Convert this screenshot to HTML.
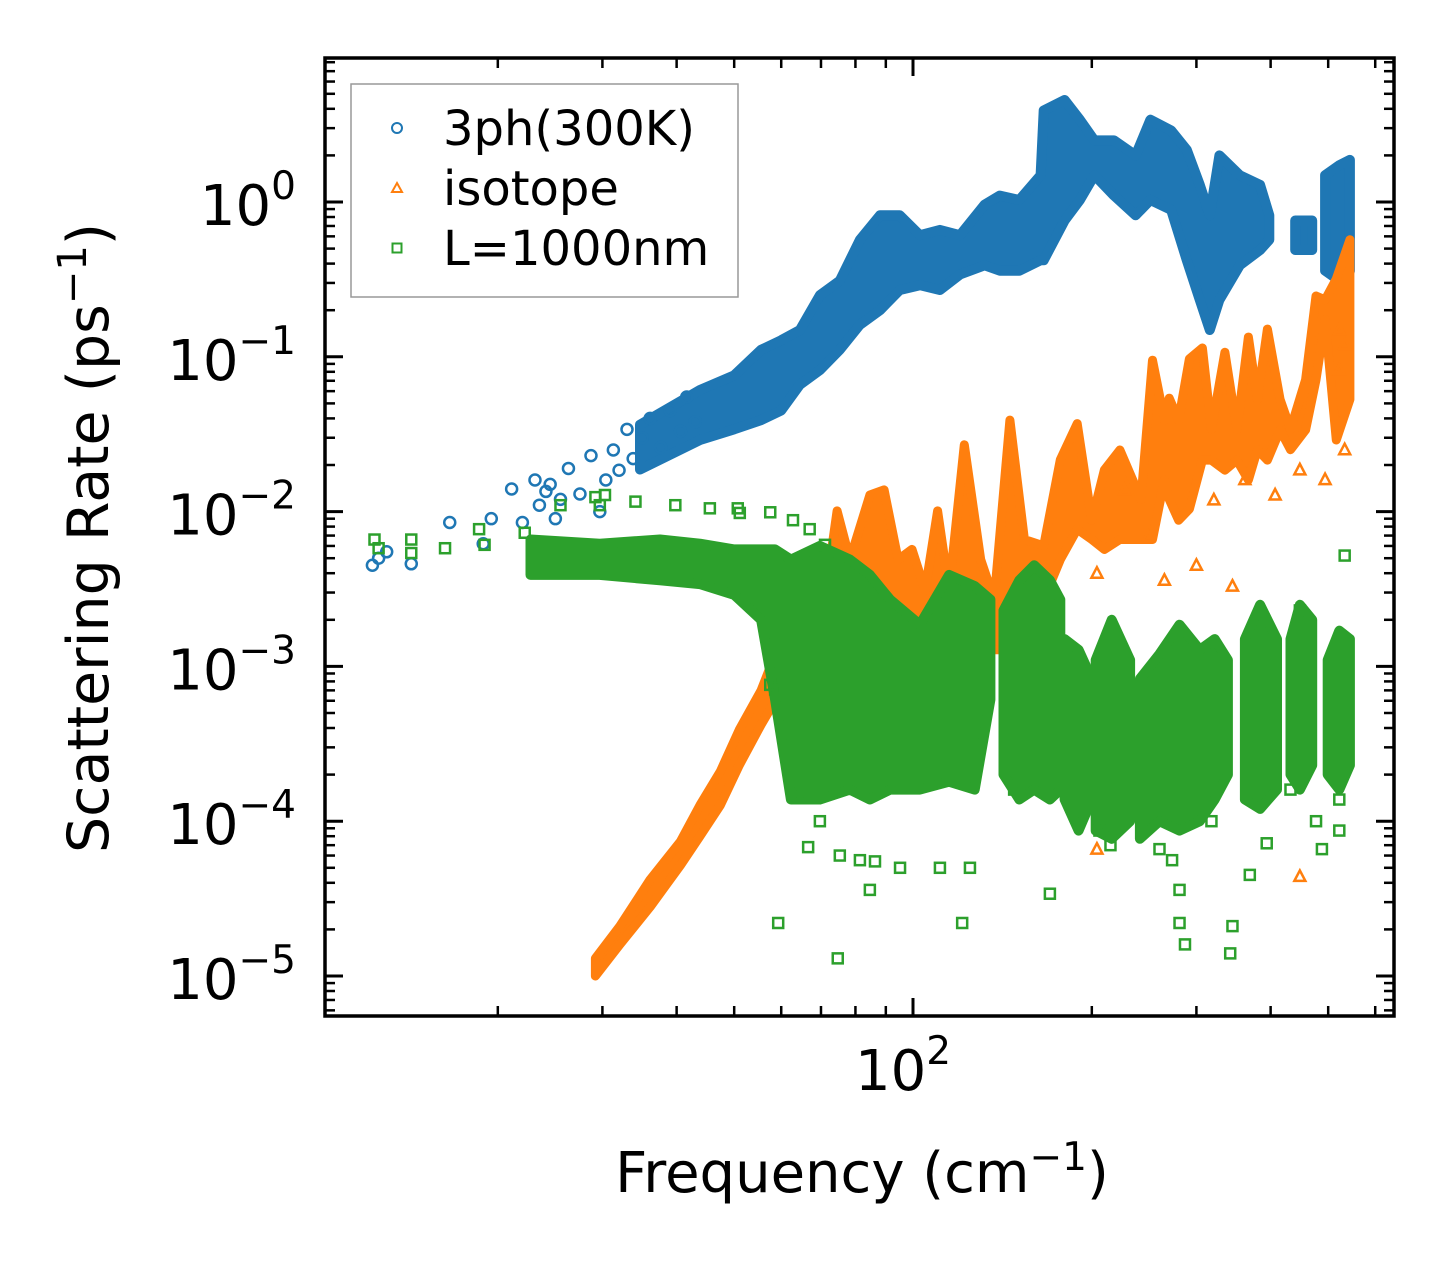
<!DOCTYPE html>
<html><head><meta charset="utf-8">
<style>
html,body{margin:0;padding:0;background:#fff;}
svg{display:block;font-family:"DejaVu Sans","Liberation Sans",sans-serif;}
</style></head>
<body>
<svg id="chart" width="1455" height="1265" viewBox="0 0 1455 1265" xmlns="http://www.w3.org/2000/svg">
<rect x="0" y="0" width="1455" height="1265" fill="#fff"/>
<g id="marks"></g>
<g id="axes"></g>
<g id="legend">
  <rect x="351" y="84" width="387" height="213" fill="#fff" fill-opacity="0.8" stroke="#999" stroke-width="1.5"/>
  <circle cx="397" cy="128" r="5" fill="none" stroke="#1f77b4" stroke-width="2"/>
  <text x="443" y="145" font-size="48">3ph(300K)</text>
  <path d="M397,183 L402,192 L392,192 Z" fill="none" stroke="#ff7f0e" stroke-width="2"/>
  <text x="443" y="205" font-size="48">isotope</text>
  <rect x="392.5" y="243.5" width="9" height="9" fill="none" stroke="#2ca02c" stroke-width="2"/>
  <text x="443" y="265" font-size="48">L=1000nm</text>
</g>
<text x="862" y="1192" font-size="56" text-anchor="middle">Frequency (cm<tspan dy="-22" font-size="39">−1</tspan><tspan dy="22">)</tspan></text>
<text transform="translate(108,538) rotate(-90)" font-size="57" text-anchor="middle">Scattering Rate (ps<tspan dy="-22" font-size="40">−1</tspan><tspan dy="22">)</tspan></text>
</svg>
<script>
// ---- data ----
// 3ph scattering: scattered low-frequency points
const blueF = [12.3,12.6,13.0,14.3,16.6,18.9,19.5,21.1,22.0,23.1,23.5,24.1,24.5,25.0,25.5,26.3,27.5,28.7,29.7,30.4,31.3,32.0,33.0,33.8,35.0,36.1,37.6,39.0,40.6,41.6,43.0,520,530];
const blueR = [0.0045,0.005,0.0055,0.0046,0.0085,0.0062,0.009,0.014,0.0085,0.016,0.011,0.0135,0.015,0.009,0.012,0.019,0.013,0.023,0.01,0.016,0.025,0.0185,0.034,0.022,0.03,0.04,0.026,0.045,0.033,0.055,0.038,0.16,0.19];
// 3ph dense band envelope: frequency, low rate, high rate, cluster
const blueBandF  = [34.7,43.8,50,55.5,60,64.5,69.7,75.3,81.4,88,95,102.7,111,120,132,140,151,164,166,180,191,202,218,237,251,272,289,304,316,328,355,384,398, 440,470, 494,522,544];
const blueBandLo = [0.0187,0.029,0.034,0.039,0.045,0.066,0.082,0.111,0.161,0.2,0.27,0.29,0.27,0.34,0.39,0.36,0.36,0.42,0.42,0.76,1.03,1.49,1.1,0.82,1.03,0.89,0.42,0.233,0.149,0.233,0.39,0.49,0.57, 0.49,0.49, 0.36,0.31,0.36];
const blueBandHi = [0.0364,0.061,0.076,0.111,0.128,0.149,0.25,0.31,0.57,0.82,0.82,0.61,0.66,0.61,0.96,1.1,1.03,1.49,3.9,4.56,3.4,2.5,2.5,2.0,3.4,2.9,2.17,1.29,0.82,2.0,1.49,1.29,0.82, 0.76,0.76, 1.49,1.73,1.87];
const blueBandG  = [1,1,1,1,1,1,1,1,1,1,1,1,1,1,1,1,1,1,1,1,1,1,1,1,1,1,1,1,1,1,1,1,1, 2,2, 3,3,3];

// isotope scattering band envelope
const orangeBandF  = [29.2,32.1,36.1,40.6,43.8,47.4,51,55.5,60,63.3,67,71,74.5,78.3,84.6,89.4,94.4,99.6,104.8,110,115,122,130,137,145.6,154,166,177,189,200,210,223,242,253,265,270,280,292,307,318,335,351,367,380,395,415,432,458,477,494,516,544];
const orangeBandLo = [1e-5,1.6e-5,2.8e-5,5.2e-5,8e-5,1.27e-4,2.3e-4,4.2e-4,7e-4,1.1e-3,1.5e-3,1.5e-3,1.5e-3,1.5e-3,0.002,0.002,0.002,0.002,0.002,0.002,0.00173,0.00173,0.0015,0.00128,0.00128,0.00173,0.0027,0.0049,0.0077,0.0066,0.0057,0.0066,0.0066,0.0066,0.016,0.012,0.0088,0.0104,0.0215,0.0215,0.0185,0.0215,0.016,0.0251,0.0215,0.0337,0.0251,0.0337,0.071,0.174,0.029,0.053];
const orangeBandHi = [1.3e-5,2.1e-5,4.2e-5,7.4e-5,1.27e-4,2.1e-4,3.9e-4,7e-4,1.5e-3,3.1e-3,4.9e-3,0.0027,0.0101,0.0049,0.0128,0.0138,0.0049,0.0057,0.0031,0.0101,0.0031,0.027,0.0049,0.0027,0.039,0.0066,0.006,0.0216,0.037,0.0088,0.0186,0.025,0.012,0.095,0.039,0.054,0.039,0.097,0.114,0.034,0.107,0.034,0.134,0.053,0.151,0.053,0.034,0.071,0.247,0.233,0.318,0.57];
// isotope scattered points
const orangeF = [204,227,249,265,321,362,407,448,494,533,204,448,522,533,522,300,345];
const orangeR = [0.004,0.0138,0.0069,0.0036,0.0119,0.0161,0.0128,0.0186,0.0161,0.0251,6.6e-5,4.4e-5,0.149,0.12,0.082,0.0045,0.0033];

// boundary scattering band envelope
const greenBandF  = [22.7,29.7,37.5,43.8,50,55.5,58.6,62.3,69.7,78.3,84.6,91.5,102.7,115,127,135, 142,151,160,170,177, 180,190,200, 203,216,232, 241,260,281,304,322,339, 362,384,410, 432,448,470, 499,522,544];
const greenBandLo = [0.0039,0.0039,0.0036,0.0034,0.0029,0.002,0.00061,1.38e-4,1.38e-4,1.6e-4,1.38e-4,1.6e-4,1.6e-4,1.8e-4,1.6e-4,0.00061, 2e-4,1.38e-4,1.6e-4,1.38e-4,1.6e-4, 1.38e-4,8.7e-5,1.38e-4, 8.7e-5,7.7e-5,1e-4, 7.7e-5,1e-4,8.7e-5,1e-4,1.38e-4,2e-4, 1.38e-4,1.2e-4,1.6e-4, 2e-4,1.6e-4,2.3e-4, 2e-4,1.6e-4,2.3e-4];
const greenBandHi = [0.0066,0.0062,0.0066,0.0062,0.0057,0.0057,0.0057,0.0049,0.006,0.0049,0.0039,0.0027,0.00186,0.0039,0.0033,0.0027, 0.0023,0.0036,0.0045,0.0036,0.0027, 0.0015,0.00128,0.00083, 0.0011,0.002,0.0011, 0.00083,0.0012,0.00186,0.00128,0.0015,0.0011, 0.0015,0.0025,0.0015, 0.0015,0.0025,0.002, 0.0011,0.0017,0.0015];
const greenBandG  = [1,1,1,1,1,1,1,1,1,1,1,1,1,1,1,1, 2,2,2,2,2, 3,3,3, 4,4,4, 5,5,5,5,5,5, 6,6,6, 7,7,7, 8,8,8];
// boundary scattered points
const greenF = [12.4,12.6,14.3,14.3,16.3,18.6,19.0,22.2,25.5,29.2,29.7,30.3,34.1,39.8,45.5,50.7,51.1,57.5,62.8,67.0,71.1,57.5,58.6,64.5,66.6,69.7,75.3,81.4,86.3,95.1,59.3,74.7,84.6,111,124.7,121,148,170,206,215,260,273,281,281,287,318,345,342,369,394,432,488,477,522,522,448,533];
const greenR = [0.0066,0.0058,0.0066,0.0054,0.0058,0.0077,0.0061,0.0073,0.011,0.0124,0.011,0.0128,0.0116,0.011,0.0105,0.0105,0.0098,0.0099,0.0088,0.0077,0.0061,0.00076,0.00071,0.00015,6.8e-5,1e-4,6e-5,5.6e-5,5.5e-5,5e-5,2.2e-5,1.3e-5,3.6e-5,5e-5,5e-5,2.2e-5,1.6e-4,3.4e-5,8.7e-5,7e-5,6.6e-5,5.6e-5,3.6e-5,2.2e-5,1.6e-5,1e-4,2.1e-5,1.4e-5,4.5e-5,7.2e-5,1.6e-4,6.6e-5,1e-4,8.7e-5,1.38e-4,0.0023,0.0052];

// axis tick data
const yMajorExp = [0,-1,-2,-3,-4,-5];
const yTickLabels = ['0','−1','−2','−3','−4','−5'];
const xMajor = [100];
const xTickLabels = ['2'];

// ---- scales ----
const X0=325, X1=1394, Y0=58, Y1=1016;
function xs(f){ return 913 + 594*Math.log10(f/100); }
function ys(r){ return 202 - 154.8*Math.log10(r); }
const NS='http://www.w3.org/2000/svg';
const marks=document.getElementById('marks');
const axes=document.getElementById('axes');
function mk(tag, attrs, parent){
  const e=document.createElementNS(NS,tag);
  for(const k in attrs) e.setAttribute(k, attrs[k]);
  parent.appendChild(e); return e;
}
const defs=mk('defs',{},marks);
const cp=mk('clipPath',{id:'clip'},defs);
mk('rect',{x:X0,y:Y0,width:X1-X0,height:Y1-Y0},cp);
marks.setAttribute('clip-path','url(#clip)');

function drawBand(F,Lo,Hi,G,color,name,sw){
  const groups={};
  for(let i=0;i<F.length;i++){ const g=G?G[i]:1; (groups[g]=groups[g]||[]).push(i); }
  for(const g in groups){
    const idx=groups[g];
    let d='';
    idx.forEach((i,k)=>{ d+=(k?'L':'M')+xs(F[i]).toFixed(1)+','+ys(Hi[i]).toFixed(1); });
    idx.slice().reverse().forEach(i=>{ d+='L'+xs(F[i]).toFixed(1)+','+ys(Lo[i]).toFixed(1); });
    d+='Z';
    const p=mk('path',{d:d,fill:color,stroke:color,'stroke-width':sw,'stroke-linejoin':'round'},marks);
    
    
  }
}
function drawPts(F,R,shape,color,name){
  for(let i=0;i<F.length;i++){
    const x=xs(F[i]), y=ys(R[i]);
    let e;
    if(shape==='circle') e=mk('circle',{cx:x,cy:y,r:5.5,fill:'none',stroke:color,'stroke-width':2.5},marks);
    else if(shape==='square') e=mk('rect',{x:x-5,y:y-5,width:10,height:10,fill:'none',stroke:color,'stroke-width':2.5},marks);
    else e=mk('path',{d:`M${x},${y-6}L${x+5.5},${y+4.5}L${x-5.5},${y+4.5}Z`,fill:'none',stroke:color,'stroke-width':2.5},marks);
    
    
  }
}
drawBand(blueBandF,blueBandLo,blueBandHi,blueBandG,'#1f77b4','3ph-band',10);
drawPts(blueF,blueR,'circle','#1f77b4','3ph-point');
drawBand(orangeBandF,orangeBandLo,orangeBandHi,null,'#ff7f0e','isotope-band',9);
drawPts(orangeF,orangeR,'tri','#ff7f0e','isotope-point');
drawBand(greenBandF,greenBandLo,greenBandHi,greenBandG,'#2ca02c','boundary-band',10);
drawPts(greenF,greenR,'square','#2ca02c','boundary-point');

// ---- axes ----
const frame=mk('rect',{x:X0,y:Y0,width:X1-X0,height:Y1-Y0,fill:'none',stroke:'#000','stroke-width':3.5},axes);


function tick(x1,y1,x2,y2,w,name){
  const t=mk('line',{x1:x1,y1:y1,x2:x2,y2:y2,stroke:'#000','stroke-width':w},axes);
  
  
}
for(let e=1;e>=-6;e--){
  for(let m=1;m<10;m++){
    const y=ys(m*Math.pow(10,e));
    if(y<Y0+1||y>Y1-1) continue;
    const L = m===1?18:10, w = m===1?3:2.5;
    tick(X0,y,X0+L,y,w,'y-tick');
    tick(X1,y,X1-L,y,w,'y-tick-right');
  }
}
yMajorExp.forEach((e,i)=>{
  const y=ys(Math.pow(10,e));
  const t=mk('text',{x:296,y:y+23,'font-size':56,'text-anchor':'end'},axes);
  t.innerHTML='10<tspan dy="-26" font-size="39">'+yTickLabels[i]+'</tspan>';
  
  
});
for(let e=1;e<=2;e++){
  for(let m=1;m<10;m++){
    const x=xs(m*Math.pow(10,e));
    if(x<X0+1||x>X1-1) continue;
    const L = m===1?18:10, w = m===1?3:2.5;
    tick(x,Y1,x,Y1-L,w,'x-tick');
    tick(x,Y0,x,Y0+L,w,'x-tick-top');
  }
}
xMajor.forEach((f,i)=>{
  const x=xs(f);
  const t=mk('text',{x:x-10,y:1090,'font-size':56,'text-anchor':'middle'},axes);
  t.innerHTML='10<tspan dy="-26" font-size="39">'+xTickLabels[i]+'</tspan>';
  
  
});
</script>
</body></html>
